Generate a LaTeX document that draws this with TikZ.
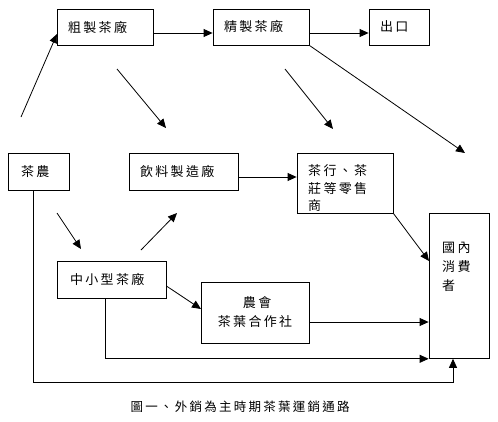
\documentclass[tikz,border=0pt]{standalone}
\usepackage{fontspec}
\newfontfamily\cjk[LetterSpace=18]{Noto Sans CJK TC}
\usetikzlibrary{arrows.meta}
\begin{document}
\begin{tikzpicture}[x=1pt,y=-1pt,
  box/.style={draw,line width=0.8pt,inner sep=0pt,font=\cjk\fontsize{13}{19}\selectfont},
  txt/.style={inner sep=0pt,font=\cjk\fontsize{13}{19}\selectfont,align=left,anchor=north west},
  arr/.style={line width=0.8pt,-{Triangle[length=9pt,width=8pt]}},
  ln/.style={line width=0.8pt}]
\useasboundingbox (0,0) rectangle (498,421);
% boxes
\node[box,minimum width=96pt,minimum height=36pt,text width=74pt,align=left] (crude) at (105,27) {粗製茶廠};
\node[box,minimum width=96pt,minimum height=36pt,text width=74pt,align=left] (refine) at (261,27) {精製茶廠};
\node[box,minimum width=60pt,minimum height=36pt,text width=38pt,align=left] (export) at (399,27) {出口};
\node[box,minimum width=61pt,minimum height=37pt,text width=35pt,align=left] (farmer) at (38.5,171.5) {茶農};
\node[box,minimum width=109pt,minimum height=37pt,text width=87pt,align=left] (bev) at (183.5,171.5) {飲料製造廠};
\node[box,minimum width=96pt,minimum height=60pt] (shop) at (345,183) {};
\node[txt] (shopT) at (308,164) {茶行、茶\\[-1pt]莊等零售\\[-2pt]商};
\node[box,minimum width=60pt,minimum height=145pt,anchor=north] (cons) at (459,213) {};
\node[txt] (consT) at (442,242) {國內\\消費\\者};
\node[box,minimum width=108pt,minimum height=61pt,text width=100pt,align=center] (coop) at (255,312.5) {\ 農會\\茶葉合作社};
\node[box,minimum width=109pt,minimum height=37pt,text width=83pt,align=left] (small) at (111.5,279.5) {中小型茶廠};
% floating coordinates
\coordinate (a1) at (21,117);
\coordinate (a2) at (57,34);
\coordinate (b1) at (117,69);
\coordinate (b2) at (166,128);
\coordinate (c1) at (285,69);
\coordinate (c2) at (333,129);
\coordinate (d2) at (465,153);
\coordinate (e1) at (57,213);
\coordinate (e2) at (81,249);
\coordinate (f1) at (141,250);
\coordinate (f2) at (177,213);
\coordinate (g2) at (201,309);
\coordinate (h2) at (429,261);
\coordinate (bevA) at (238,177);
\coordinate (coopA) at (309,322);
% connectors
\draw[arr] (a1) -- (a2);
\draw[arr] ([yshift=-6pt]crude.east) -- ([yshift=-6pt]refine.west);
\draw[arr] ([yshift=-6pt]refine.east) -- ([yshift=-6pt]export.west);
\draw[arr] (b1) -- (b2);
\draw[arr] (c1) -- (c2);
\draw[arr] (refine.south east) -- (d2);
\draw[arr] (bevA) -- (bevA -| shop.west);
\draw[arr] (shop.south east) -- (h2);
\draw[arr] (e1) -- (e2);
\draw[arr] (f1) -- (f2);
\draw[arr] ([yshift=-6.5pt]small.east) -- (g2);
\draw[arr] (coopA) -- (coopA -| cons.west);
\draw[arr] ([xshift=-6.5pt]small.south) |- (cons.south west);
\draw[arr] ([xshift=-5.5pt]farmer.south) |- (453,382) -- ([xshift=-6pt]cons.south);
% caption
\node[font=\cjk\fontsize{12.5}{15}\selectfont] (cap) at (240,407) {圖一、外銷為主時期茶葉運銷通路};
\end{tikzpicture}
\end{document}
